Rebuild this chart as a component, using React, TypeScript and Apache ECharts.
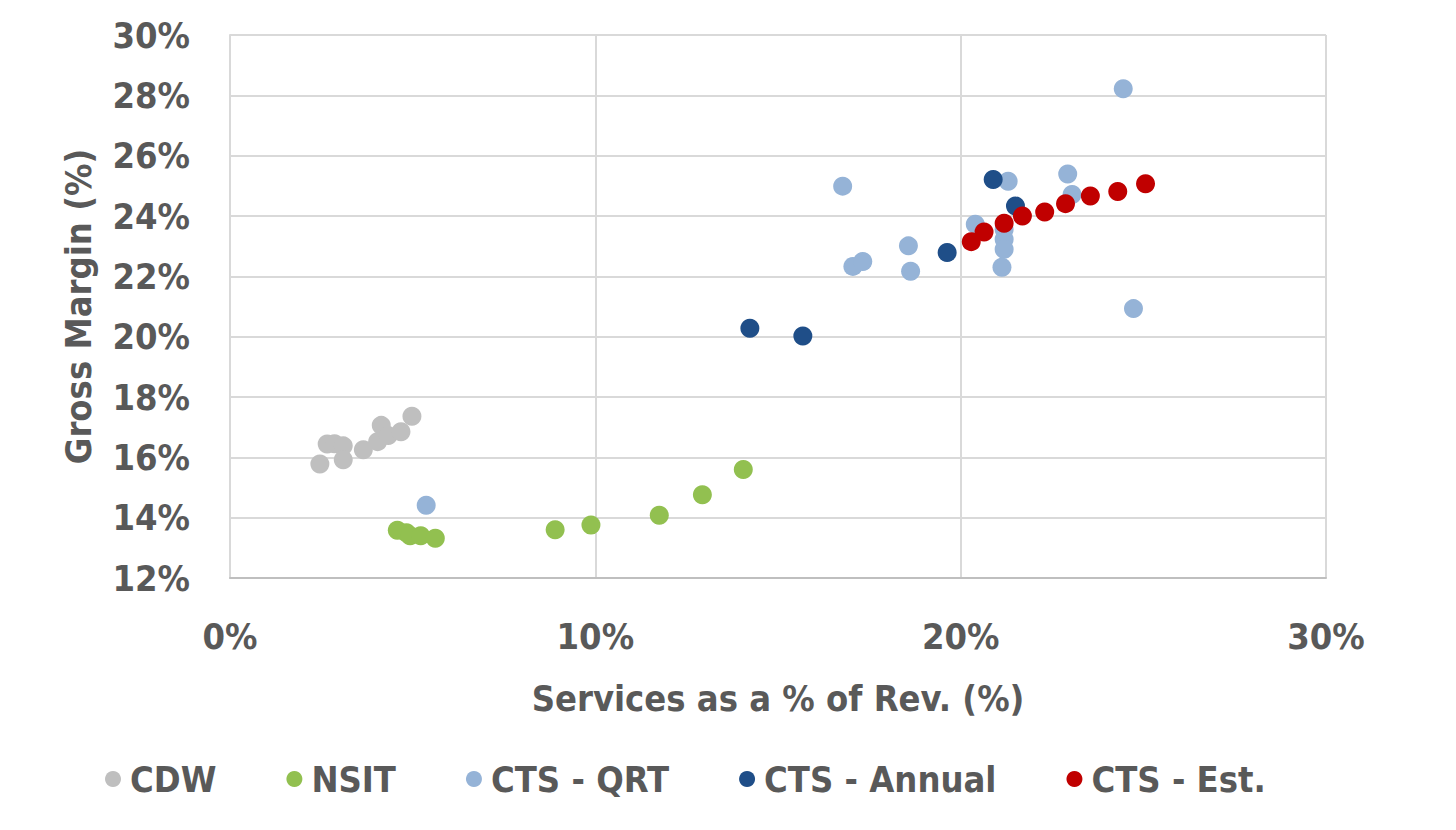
import React, { useEffect, useRef } from "react";
import * as echarts from "echarts";

const cdwX = [2.46, 2.66, 2.86, 3.1, 3.1, 3.65, 4.04, 4.14, 4.33, 4.68, 4.98];
const cdwY = [15.78, 16.44, 16.45, 16.38, 15.92, 16.25, 16.52, 17.06, 16.72, 16.85, 17.36];

const nsitX = [4.58, 4.83, 4.93, 5.22, 5.62, 8.9, 9.88, 11.75, 12.93, 14.05];
const nsitY = [13.58, 13.5, 13.4, 13.4, 13.32, 13.6, 13.76, 14.08, 14.76, 15.6];

const qrtX = [5.37, 16.77, 17.05, 17.32, 18.57, 18.63, 20.4, 21.3, 21.19, 21.19, 21.19, 21.13, 22.93, 23.05, 24.45, 24.73];
const qrtY = [14.41, 24.99, 22.33, 22.49, 23.01, 22.17, 23.73, 25.15, 23.55, 23.23, 22.9, 22.3, 25.39, 24.71, 28.22, 20.93];

const annualX = [14.23, 15.68, 19.63, 20.89, 21.5];
const annualY = [20.28, 20.02, 22.79, 25.21, 24.33];

const estX = [20.29, 20.64, 21.19, 21.69, 22.3, 22.87, 23.55, 24.3, 25.06];
const estY = [23.15, 23.47, 23.76, 24.0, 24.13, 24.41, 24.66, 24.81, 25.07];

const seriesNames = ["CDW", "NSIT", "CTS - QRT", "CTS - Annual", "CTS - Est."];
const seriesColors = ["#BFBFBF", "#92C050", "#95B3D7", "#1F4E88", "#C00000"];

const xTitle = "Services as a % of Rev. (%)";
const yTitle = "Gross Margin (%)";

const pairs = (xs: number[], ys: number[]) => xs.map((x, i) => [x, ys[i]]);

const FONT = "'DejaVu Sans Condensed', 'DejaVu Sans', sans-serif";
const TXT = "#595959";

export default function App() {
  const ref = useRef<HTMLDivElement>(null);
  useEffect(() => {
    if (!ref.current) return;
    const chart = echarts.init(ref.current, null, { renderer: "svg" });
    const data = [pairs(cdwX, cdwY), pairs(nsitX, nsitY), pairs(qrtX, qrtY), pairs(annualX, annualY), pairs(estX, estY)];
    chart.setOption({
      animation: false,
      backgroundColor: "#ffffff",
      textStyle: { fontFamily: FONT },
      grid: { left: 230, right: 130, top: 35, bottom: 252 },
      legend: {
        bottom: 28,
        left: 100,
        itemWidth: 16,
        itemHeight: 16,
        itemGap: 70,
        icon: "circle",
        textStyle: { fontFamily: FONT, fontSize: 36, fontWeight: "bold", color: TXT, padding: [0, 0, 0, 4] },
        data: seriesNames,
      },
      xAxis: {
        type: "value",
        min: 0,
        max: 30,
        interval: 10,
        name: xTitle,
        nameLocation: "middle",
        nameGap: 102,
        nameTextStyle: { fontFamily: FONT, fontSize: 36, fontWeight: "bold", color: TXT },
        axisLine: { show: true, lineStyle: { color: "#BFBFBF", width: 2 } },
        axisTick: { show: false },
        splitLine: { show: true, lineStyle: { color: "#D9D9D9", width: 2 } },
        axisLabel: { formatter: "{value}%", fontFamily: FONT, fontSize: 36, fontWeight: "bold", color: TXT, margin: 40 },
      },
      yAxis: {
        type: "value",
        min: 12,
        max: 30,
        interval: 2,
        name: yTitle,
        nameLocation: "middle",
        nameGap: 134,
        nameTextStyle: { fontFamily: FONT, fontSize: 36, fontWeight: "bold", color: TXT },
        axisLine: { show: true, lineStyle: { color: "#D9D9D9", width: 2 } },
        axisTick: { show: false },
        splitLine: { show: true, lineStyle: { color: "#D9D9D9", width: 2 } },
        axisLabel: { formatter: "{value}%", fontFamily: FONT, fontSize: 36, fontWeight: "bold", color: TXT, margin: 40 },
      },
      series: seriesNames.map((name, i) => ({
        name,
        type: "scatter",
        symbol: "circle",
        symbolSize: 19,
        itemStyle: { color: seriesColors[i], opacity: 1 },
        data: data[i],
      })),
    });
    return () => chart.dispose();
  }, []);
  return (
    <div style={{ position: "fixed", left: 0, top: 0, width: 1456, height: 830, background: "#fff" }}>
      <div ref={ref} style={{ width: 1456, height: 830 }} />
    </div>
  );
}
